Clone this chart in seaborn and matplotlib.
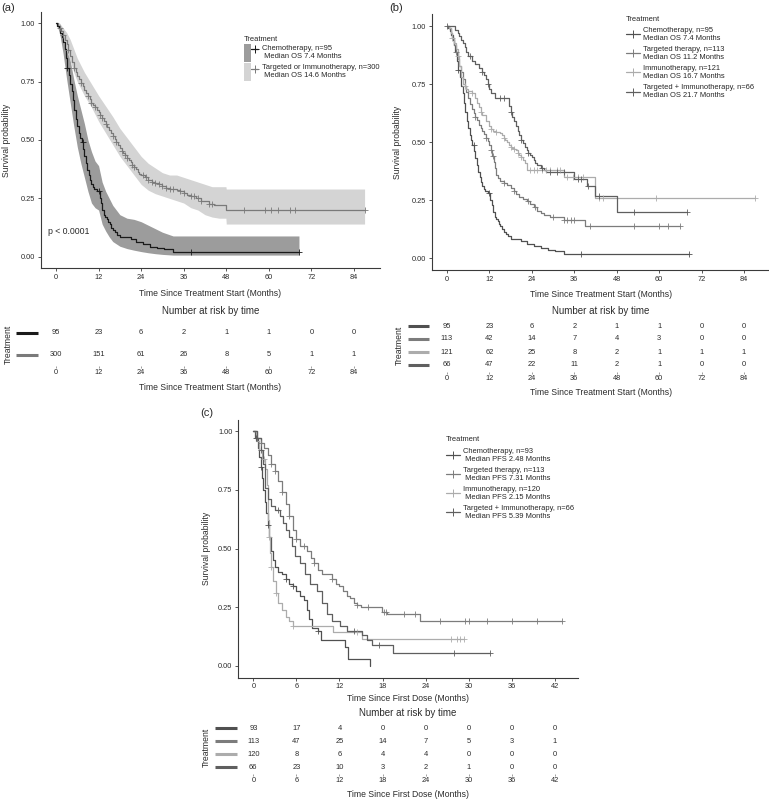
import numpy as np
import seaborn as sns
import matplotlib
matplotlib.use('Agg')
import matplotlib.pyplot as plt
from matplotlib.lines import Line2D
from matplotlib.patches import Patch
from matplotlib.legend_handler import HandlerTuple
import matplotlib.transforms as mtransforms

# ---------------- data ----------------
# (a) overall survival, chemo vs targeted/immuno (with confidence bands)
chemo_t = [0, 0.4, 0.8, 1.2, 1.6, 2.0, 2.4, 2.8, 3.2, 3.6, 4.0, 4.4, 4.8, 5.2, 5.6, 6.0, 6.4, 6.8, 7.2, 7.6,
           8.0, 8.4, 8.8, 9.2, 9.6, 10.0, 10.4, 10.8, 11.2, 11.6, 12.3, 12.7, 13.1, 13.5, 13.9, 14.3, 14.7, 15.1,
           15.5, 16.0, 16.6, 17.2, 18.0, 19.5, 21.0, 22.5, 23.5, 24.5, 26.5, 28.5, 30.5, 33.0, 68.5]
chemo_s = [1.0, 0.99, 0.98, 0.96, 0.94, 0.92, 0.89, 0.85, 0.81, 0.78, 0.74, 0.71, 0.67, 0.63, 0.59, 0.56, 0.53,
           0.51, 0.49, 0.46, 0.43, 0.40, 0.37, 0.35, 0.33, 0.31, 0.30, 0.29, 0.29, 0.28, 0.25, 0.23, 0.20, 0.18,
           0.17, 0.16, 0.15, 0.14, 0.125, 0.115, 0.105, 0.095, 0.085, 0.085, 0.075, 0.064, 0.064, 0.053, 0.043,
           0.037, 0.032, 0.021, 0.021]
chemo_cens = [3.2, 7.5, 12.0, 38.0, 68.5]
chemo_band_t = [0, 1, 2, 3, 4, 5, 6, 7, 8, 9, 10, 11, 12, 13, 14, 15, 16, 18, 20, 22, 24, 26, 28, 30, 33, 68.5]
chemo_hi = [1.0, 1.0, 0.97, 0.91, 0.84, 0.76, 0.69, 0.63, 0.57, 0.50, 0.45, 0.41, 0.39, 0.32, 0.28, 0.25, 0.22,
            0.18, 0.165, 0.16, 0.15, 0.135, 0.12, 0.105, 0.089, 0.089]
chemo_lo = [1.0, 0.96, 0.87, 0.76, 0.66, 0.56, 0.47, 0.40, 0.34, 0.28, 0.23, 0.21, 0.20, 0.14, 0.11, 0.085, 0.065,
            0.045, 0.035, 0.028, 0.022, 0.017, 0.013, 0.01, 0.007, 0.007]

ti_t = [0, 0.5, 1, 1.5, 2, 2.5, 3, 3.5, 4, 4.5, 5, 5.5, 6, 6.5, 7, 7.5, 8, 8.5, 9, 9.5, 10, 10.5, 11, 11.5,
        12, 12.5, 13, 13.5, 14, 14.5, 15, 15.5, 16, 16.5, 17, 17.5, 18, 18.5, 19, 19.5, 20, 20.5, 21, 21.5, 22,
        22.5, 23, 23.5, 24,
        25, 26, 27, 28, 29, 30, 31, 32, 33, 34, 35, 36, 37, 38,
        39.5, 41, 43, 44.5, 48, 87]
ti_s = [1.0, 0.99, 0.98, 0.965, 0.95, 0.93, 0.91, 0.885, 0.86, 0.835, 0.81, 0.79, 0.775, 0.76, 0.745, 0.73, 0.715,
        0.70, 0.69, 0.675, 0.66, 0.65, 0.64, 0.63,
        0.62, 0.607, 0.594, 0.581, 0.568, 0.555, 0.542, 0.53, 0.517, 0.504, 0.491, 0.478, 0.465, 0.455, 0.445,
        0.435, 0.425, 0.415, 0.405, 0.395, 0.385, 0.375, 0.365, 0.355, 0.35,
        0.34, 0.33, 0.32, 0.315, 0.31, 0.305, 0.295, 0.29, 0.29, 0.285, 0.28, 0.275, 0.265, 0.26,
        0.25, 0.24, 0.225, 0.22, 0.20, 0.20]
ti_cens = [1, 2, 3.5, 5, 7, 9, 10, 11, 12.5, 13, 14, 16, 17, 18.5, 19.5, 20, 21.5, 22, 24.5, 25.5, 26, 27, 28, 29,
           30, 31, 32, 33, 35, 36, 38, 39, 40, 41, 43, 44, 53, 59, 60.5, 62.5, 66, 67.5, 87]
ti_band_t = [0, 1, 2, 3, 4, 5, 6, 8, 10, 12, 14, 16, 18, 20, 22, 24, 26, 28, 30, 32, 34, 36, 38, 40, 42, 44, 46,
             47.9, 48, 87]
ti_hi = [1.0, 1.0, 0.98, 0.96, 0.93, 0.89, 0.85, 0.79, 0.74, 0.69, 0.645, 0.60, 0.55, 0.51, 0.47, 0.43, 0.40, 0.38,
         0.36, 0.35, 0.35, 0.34, 0.33, 0.32, 0.31, 0.30, 0.30, 0.30, 0.29, 0.29]
ti_lo = [1.0, 0.97, 0.93, 0.88, 0.84, 0.79, 0.75, 0.69, 0.64, 0.58, 0.53, 0.48, 0.43, 0.39, 0.35, 0.31, 0.285, 0.27,
         0.26, 0.25, 0.24, 0.23, 0.21, 0.20, 0.18, 0.17, 0.165, 0.165, 0.14, 0.14]

# (b) overall survival by four treatments
targ_t = [0, 0.5, 1, 1.5, 2, 2.5, 3, 3.5, 4, 4.5, 5, 5.5, 6, 6.5, 7, 7.5, 8, 8.5, 9, 9.5, 10, 10.5, 11, 11.5, 12,
          12.4, 12.8, 13.2, 13.6, 14.0, 14.5, 15.0,
          16.0, 17.0, 18.0, 19.0, 19.5,
          20.5, 21.5, 22.5, 23.5, 24.5, 25.5, 26.5, 27.5,
          29.0, 33.0, 39.0, 66]
targ_s = [1.0, 0.99, 0.97, 0.95, 0.92, 0.89, 0.86, 0.83, 0.80, 0.77, 0.74, 0.715, 0.69, 0.665, 0.645, 0.625, 0.61,
          0.595, 0.575, 0.56, 0.55, 0.535, 0.52, 0.505, 0.49,
          0.465, 0.44, 0.415, 0.39, 0.36, 0.345, 0.335,
          0.325, 0.315, 0.305, 0.29, 0.275,
          0.265, 0.255, 0.245, 0.235, 0.22, 0.205, 0.195, 0.185,
          0.18, 0.165, 0.14, 0.14]
targ_cens = [2.5, 8, 11, 12.5, 13, 16, 19, 23, 25, 30, 33, 34, 35, 36, 40.5, 53, 60, 62.5, 66]

imm_t = [0, 0.5, 1, 1.5, 2, 2.5, 3, 3.5, 4, 4.5, 5, 5.5, 6,
         7, 8, 8.5, 9, 9.5, 10, 11, 12, 12.5, 13,
         14, 15, 15.5, 16, 16.5, 17, 17.5, 18, 18.5, 19, 19.5, 20, 20.5, 21, 21.5, 22, 22.5,
         33, 35, 42, 87]
imm_s = [1.0, 0.99, 0.97, 0.95, 0.925, 0.90, 0.87, 0.83, 0.78, 0.75, 0.74, 0.73, 0.72,
         0.71, 0.69, 0.67, 0.65, 0.63, 0.615, 0.59, 0.57, 0.555, 0.55,
         0.545, 0.54, 0.53, 0.52, 0.51, 0.50, 0.49, 0.48, 0.475, 0.47, 0.465, 0.455, 0.445, 0.435, 0.425, 0.41, 0.38,
         0.35, 0.35, 0.26, 0.26]
imm_cens = [1.5, 3, 5, 7, 9.5, 12.5, 14, 16, 18, 19, 20, 21, 23.5, 24.5, 25.5, 27, 28, 29, 31, 32, 34, 35.5, 37,
            38.5, 43, 44, 59, 87]

tpi_t = [0, 2.3, 3.0, 3.5, 4.0, 4.5, 5.0, 5.5, 6.0,
         7.0, 8.0, 9.0, 10.0, 10.5, 11.0, 11.5, 12.0, 12.5, 13.5,
         17.5, 18.0, 18.5, 19.0, 19.5, 20.0, 20.5, 21.0, 21.5, 22.0, 22.5, 23.0, 23.5, 24.0, 24.5, 25.0, 25.5,
         26.5, 27.5, 28.0, 36.0, 39.5, 42.0, 48.0, 68]
tpi_s = [1.0, 0.985, 0.97, 0.955, 0.94, 0.925, 0.91, 0.89, 0.87,
         0.85, 0.835, 0.82, 0.80, 0.79, 0.77, 0.75, 0.73, 0.71, 0.69,
         0.655, 0.63, 0.61, 0.59, 0.57, 0.55, 0.53, 0.51, 0.495, 0.48, 0.465, 0.455, 0.445, 0.435, 0.425, 0.41, 0.40,
         0.39, 0.38, 0.37, 0.34, 0.31, 0.27, 0.20, 0.20]
tpi_cens = [0, 6.5, 10, 11.5, 15, 16, 18, 21, 23, 27, 29, 31, 33, 37, 38, 40, 43, 53, 68]

# (c) progression-free survival by four treatments
pchemo_t = [0, 0.3, 0.6, 0.8, 1.0, 1.2, 1.4, 1.6, 1.8, 2.0, 2.2, 2.4, 2.7, 3.0, 3.5, 4.0, 4.5, 5.0, 5.5, 6.0,
            6.5, 7.0, 7.5, 7.8, 8.2, 9.0, 9.4, 12.8, 13.2, 16.2]
pchemo_s = [1.0, 0.97, 0.93, 0.89, 0.85, 0.80, 0.75, 0.70, 0.65, 0.60, 0.55, 0.49, 0.45, 0.42, 0.40, 0.39, 0.37,
            0.35, 0.34, 0.32, 0.30, 0.28, 0.24, 0.20, 0.16, 0.15, 0.11, 0.08, 0.03, 0.0]
pchemo_cens = [0.4, 1.0, 2.0, 4.5, 5.5, 9.0]

ptarg_t = [0, 0.5, 1.0, 1.5, 2.0, 2.5, 3.0, 3.5, 4.0, 4.5, 5.0, 5.5, 6.0, 6.5, 7.5, 8.0, 8.5, 9.0, 9.5, 11.0, 11.5,
           12.0, 12.5, 13.0, 13.5, 14.0, 14.5, 15.0, 17.9, 18.6, 23.2, 43]
ptarg_s = [1.0, 0.97, 0.95, 0.93, 0.90, 0.86, 0.83, 0.79, 0.74, 0.69, 0.64, 0.58, 0.54, 0.51, 0.49, 0.46, 0.44,
           0.41, 0.39, 0.37, 0.35, 0.34, 0.32, 0.30, 0.29, 0.27, 0.26, 0.25, 0.23, 0.22, 0.19, 0.19]
ptarg_cens = [1, 2.5, 3, 4, 5, 6, 7, 8.5, 11, 14.5, 16, 18.2, 18.5, 21, 22.5, 26, 29.5, 30, 32.5, 36, 39.5, 43]

pimm_t = [0, 0.4, 0.8, 1.2, 1.6, 1.9, 2.0, 2.1, 2.2, 2.3, 2.5, 2.8, 3.1, 3.5, 4.0, 4.5, 5.0, 5.5, 11.1, 15.1, 29.3]
pimm_s = [1.0, 0.96, 0.92, 0.88, 0.84, 0.77, 0.70, 0.62, 0.55, 0.48, 0.42, 0.36, 0.31, 0.27, 0.24, 0.21, 0.19, 0.17,
          0.145, 0.115, 0.115]
pimm_cens = [1.5, 2.2, 2.5, 3.2, 5.5, 14.5, 27.5, 28.3, 28.8, 29.3]

ptpi_t = [0, 0.5, 1.0, 1.3, 1.6, 2.0, 2.5, 3.0, 3.7, 4.2, 4.6, 5.0, 5.4, 5.8, 6.5, 7.2, 7.9, 8.8, 9.5, 10.2, 10.9,
          12.1, 13.0, 15.1, 15.8, 16.5, 19.5, 33]
ptpi_s = [1.0, 0.97, 0.92, 0.86, 0.76, 0.71, 0.68, 0.665, 0.64, 0.61, 0.58, 0.55, 0.51, 0.47, 0.44, 0.39, 0.35, 0.32,
          0.27, 0.22, 0.19, 0.17, 0.15, 0.13, 0.11, 0.09, 0.057, 0.057]
ptpi_cens = [0.5, 1.0, 3.5, 14.0, 17.5, 28.0, 33.0]

# number at risk tables
risk_ticks_os = [0, 12, 24, 36, 48, 60, 72, 84]
risk_ticks_pfs = [0, 6, 12, 18, 24, 30, 36, 42]
risk_a = [[95, 23, 6, 2, 1, 1, 0, 0],
          [300, 151, 61, 26, 8, 5, 1, 1]]
risk_b = [[95, 23, 6, 2, 1, 1, 0, 0],
          [113, 42, 14, 7, 4, 3, 0, 0],
          [121, 62, 25, 8, 2, 1, 1, 1],
          [66, 47, 22, 11, 2, 1, 0, 0]]
risk_c = [[93, 17, 4, 0, 0, 0, 0, 0],
          [113, 47, 25, 14, 7, 5, 3, 1],
          [120, 8, 6, 4, 4, 0, 0, 0],
          [66, 23, 10, 3, 2, 1, 0, 0]]

labels_a = ['Chemotherapy, n=95\n Median OS 7.4 Months',
            'Targeted or Immunotherapy, n=300\n Median OS 14.6 Months']
labels_b = ['Chemotherapy, n=95\nMedian OS 7.4 Months',
            'Targeted therapy, n=113\nMedian OS 11.2 Months',
            'Immunotherapy, n=121\nMedian OS 16.7 Months',
            'Targeted + Immunotherapy, n=66\nMedian OS 21.7 Months']
labels_c = ['Chemotherapy, n=93\n Median PFS 2.48 Months',
            'Targeted therapy, n=113\n Median PFS 7.31 Months',
            'Immunotherapy, n=120\n Median PFS 2.15 Months',
            'Targeted + Immunotherapy, n=66\n Median PFS 5.39 Months']

# ---------------- style ----------------
sns.set_theme(style='ticks')
plt.rcParams['font.family'] = ['Liberation Sans', 'DejaVu Sans']
AX_COL = '#3a3a3a'
TXT_COL = '#2b2b2b'
cols_a = ['#1a1a1a', '#7a7a7a']
bands_a = ['#9c9c9c', '#d4d4d4']
cols4 = ['#505050', '#7c7c7c', '#acacac', '#5f5f5f']

fig = plt.figure(figsize=(7.69, 8.0), dpi=100)


def px_axes(left, top, right, bottom):
    return fig.add_axes([left / 769, 1 - bottom / 800, (right - left) / 769, (bottom - top) / 800])


def step_value(t, s, x):
    idx = np.searchsorted(t, x, side='right') - 1
    return np.asarray(s)[idx]


def km(ax, t, s, cens, color, lw=0.9):
    sns.lineplot(x=t, y=s, ax=ax, color=color, linewidth=lw, estimator=None, sort=False,
                 drawstyle='steps-post', zorder=3)
    sns.scatterplot(x=cens, y=step_value(t, s, cens), ax=ax, marker='+', s=16, color=color,
                    linewidth=0.6, zorder=4)


def style_plot(ax, xlim, xticks, xlabel, xlab_y, ylab_x):
    ax.set_xlim(*xlim)
    ax.set_ylim(-0.05, 1.05)
    ax.set_xticks(xticks)
    ax.set_yticks([0, 0.25, 0.5, 0.75, 1.0])
    ax.set_yticklabels(['0.00', '0.25', '0.50', '0.75', '1.00'])
    for sp in ['top', 'right']:
        ax.spines[sp].set_visible(False)
    for sp in ['left', 'bottom']:
        ax.spines[sp].set_color(AX_COL)
        ax.spines[sp].set_linewidth(0.8)
    ax.tick_params(labelsize=5.3, colors=AX_COL, labelcolor=TXT_COL, length=2, width=0.6, pad=2)
    ax.set_xlabel(xlabel, fontsize=6.2, color=TXT_COL)
    ax.set_ylabel('Survival probability', fontsize=6.2, color=TXT_COL)
    ax.xaxis.set_label_coords(0.5, xlab_y)
    ax.yaxis.set_label_coords(ylab_x, 0.5)
    ax.grid(False)


def risk_table(ax, ticks, table, colors, xlim, xlabel, title_y, xlab_y, ylab_x, glyph):
    n = len(table)
    for i, row in enumerate(table):
        for x, v in zip(ticks, row):
            ax.text(x, n - i, str(v), ha='center', va='center', fontsize=5.4, color=TXT_COL)
    ax.set_xlim(*xlim)
    ax.set_ylim(0.5, n + 0.5)
    ax.set_xticks(ticks)
    ax.set_yticks([])
    for sp in ax.spines.values():
        sp.set_visible(False)
    ax.tick_params(axis='x', labelsize=5.3, colors='#777777', labelcolor=TXT_COL, length=1.5, width=0.5, pad=1)
    trans = mtransforms.blended_transform_factory(ax.transAxes, ax.transData)
    for i, c in enumerate(colors):
        ax.plot(glyph, [n - i, n - i], color=c, lw=2.2, transform=trans, clip_on=False,
                solid_capstyle='butt')
    ax.text(0.5, title_y, 'Number at risk by time', transform=ax.transAxes, ha='center', va='center',
            fontsize=7, color=TXT_COL)
    ax.set_xlabel(xlabel, fontsize=6.2, color=TXT_COL)
    ax.xaxis.set_label_coords(0.5, xlab_y)
    ax.set_ylabel('Treatment', fontsize=6.2, color=TXT_COL)
    ax.yaxis.set_label_coords(ylab_x, 0.5)


xlab_os = 'Time Since Treatment Start (Months)'
xlab_pfs = 'Time Since First Dose (Months)'
xlim_os = (-4.35, 91.35)
xlim_pfs = (-2.15, 45.15)

# ---------------- panel (a) ----------------
ax_a = px_axes(40.6, 11.6, 380, 268.4)
ax_a.fill_between(chemo_band_t, chemo_lo, chemo_hi, color=bands_a[0], lw=0, zorder=1)
ax_a.fill_between(ti_band_t, ti_lo, ti_hi, color=bands_a[1], lw=0, zorder=1)
km(ax_a, ti_t, ti_s, ti_cens, cols_a[1])
km(ax_a, chemo_t, chemo_s, chemo_cens, cols_a[0])
style_plot(ax_a, xlim_os, risk_ticks_os, xlab_os, -0.080, -0.087)
ax_a.text(-2.3, 0.11, 'p < 0.0001', fontsize=6.3, color=TXT_COL, ha='left', va='center')
h_a = [(Patch(fc=bands_a[i], ec='none'), Line2D([], [], color=cols_a[i], lw=0.9, marker='+', ms=6, mew=0.7))
       for i in range(2)]
ax_a.legend(h_a, labels_a, handler_map={tuple: HandlerTuple(ndivide=None)}, title='Treatment',
            loc='upper left', bbox_to_anchor=(0.6, 0.905), frameon=False, fontsize=5.4,
            title_fontsize=5.4, handlelength=1.9, handleheight=3.4, handletextpad=0.45,
            labelspacing=0.1, borderpad=0, borderaxespad=0, alignment='left')

# ---------------- panel (b) ----------------
ax_b = px_axes(431.6, 14.4, 770, 270)
curves_b = [(chemo_t, chemo_s, chemo_cens), (targ_t, targ_s, targ_cens), (imm_t, imm_s, imm_cens),
            (tpi_t, tpi_s, tpi_cens)]
for (t, s, c), col in zip(curves_b, cols4):
    km(ax_b, t, s, c, col)
style_plot(ax_b, xlim_os, risk_ticks_os, xlab_os, -0.078, -0.0875)
h_b = [Line2D([], [], color=c, lw=0.9, marker='+', ms=6, mew=0.7) for c in cols4]
ax_b.legend(h_b, labels_b, title='Treatment', loc='upper left', bbox_to_anchor=(0.575, 0.995),
            frameon=False, fontsize=5.4, title_fontsize=5.4, handlelength=1.9, handletextpad=0.4,
            labelspacing=0.55, borderpad=0, borderaxespad=0, alignment='left')

# ---------------- panel (c) ----------------
ax_c = px_axes(237.9, 419.6, 577.5, 677.7)
curves_c = [(pchemo_t, pchemo_s, pchemo_cens), (ptarg_t, ptarg_s, ptarg_cens), (pimm_t, pimm_s, pimm_cens),
            (ptpi_t, ptpi_s, ptpi_cens)]
for (t, s, c), col in zip(curves_c, cols4):
    km(ax_c, t, s, c, col)
style_plot(ax_c, xlim_pfs, risk_ticks_pfs, xlab_pfs, -0.063, -0.079)
ax_c.legend(h_b, labels_c, title='Treatment', loc='upper left', bbox_to_anchor=(0.612, 0.935),
            frameon=False, fontsize=5.4, title_fontsize=5.4, handlelength=1.9, handletextpad=0.4,
            labelspacing=0.55, borderpad=0, borderaxespad=0, alignment='left')

# ---------------- risk tables ----------------
rk_a = px_axes(40.6, 322, 380, 366)
risk_table(rk_a, risk_ticks_os, risk_a, cols_a, xlim_os, xlab_os, 1.25, -0.386, -0.083, [-0.0725, -0.008])
rk_b = px_axes(431.6, 319.5, 770, 371.5)
risk_table(rk_b, risk_ticks_os, risk_b, cols4, xlim_os, xlab_os, 1.163, -0.317, -0.083, [-0.07, -0.008])
rk_c = px_axes(237.9, 721.8, 577.5, 773.8)
risk_table(rk_c, risk_ticks_pfs, risk_c, cols4, xlim_pfs, xlab_pfs, 1.17, -0.31, -0.079, [-0.067, -0.003])

# panel labels
fig.text(1 / 769, 1 - 8 / 800, '(a)', fontsize=8, ha='left', va='center', color=TXT_COL)
fig.text(389 / 769, 1 - 8 / 800, '(b)', fontsize=8, ha='left', va='center', color=TXT_COL)
fig.text(200 / 769, 1 - 413 / 800, '(c)', fontsize=8, ha='left', va='center', color=TXT_COL)

fig.savefig('out.png', dpi=100)
